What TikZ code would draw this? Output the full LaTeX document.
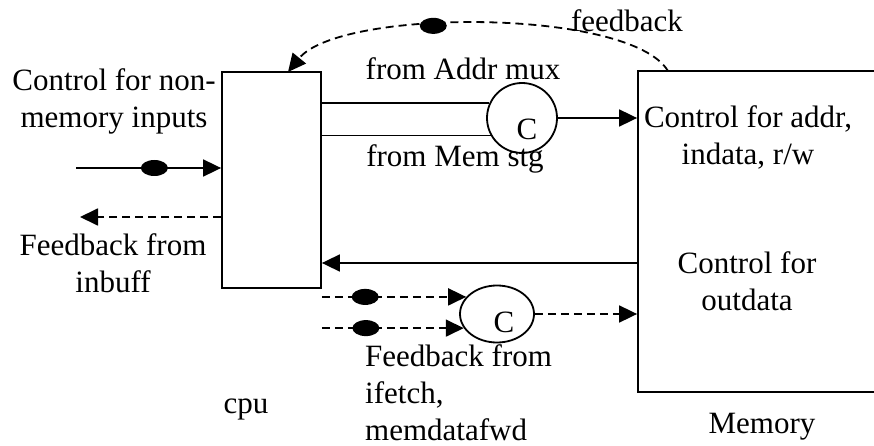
\documentclass[tikz,border=0pt]{standalone}
\usepackage{fontspec}
\setmainfont{Liberation Serif}
\usetikzlibrary{arrows.meta,shapes.geometric}

\begin{document}
\begin{tikzpicture}[x=1pt,y=-1pt,
  bx/.style={draw,line width=1.8pt,rectangle,inner sep=0pt},
  mx/.style={draw,line width=1.8pt,ellipse,inner sep=0pt},
  dt/.style={ellipse,fill=black,minimum width=27pt,minimum height=16pt,inner sep=0pt},
  tx/.style={font=\fontsize{31}{37}\selectfont,inner sep=0pt,anchor=base},
  sl/.style={line width=1.8pt},
  se/.style={sl,-{Triangle[length=18pt,width=17pt]}},
  de/.style={se,dash pattern=on 8pt off 5pt}]
  \useasboundingbox (0,0) rectangle (874,446);
  \clip (0,0) rectangle (874,446);
  % blocks
  \node[bx,minimum width=99pt,minimum height=216pt] (cpu) at (271.5,180) {};
  \node[bx,minimum width=260pt,minimum height=321pt] (mem) at (768,231.5) {};
  % combine circles
  \node[mx,minimum width=70pt,minimum height=70pt] (c1) at (522,118) {};
  \node[mx,minimum width=74pt,minimum height=57pt] (c2) at (497,314) {};
  \node[tx] (c1l) at (527,140) {C};
  \node[tx] (c2l) at (504,332) {C};
  % free ends
  \coordinate (in) at (76,168);
  \coordinate (out) at (80,217);
  \coordinate (fbs) at (668,71);
  \coordinate (fbd) at (288,72);
  % cpu to memory through the first C
  \draw[sl] (cpu.east |- c1.155) -- (c1.155);
  \draw[sl] (cpu.east |- c1.209) -- (c1.209);
  \draw[se] (c1.east) -- (c1.east -| mem.west);
  % memory back to cpu
  \draw[se] (mem.west |- 0,263) -- (cpu.east |- 0,263);
  \draw[de] (fbs) .. controls (630,8) and (340,8) .. (fbd) node[dt,pos=0.6]{};
  % feedback into the second C
  \draw[de] (cpu.east |- c2.151) -- (c2.151) node[dt,pos=0.3]{};
  \draw[de] (cpu.east |- c2.203) -- (c2.203) node[dt,pos=0.31]{};
  \draw[de] (c2.east) -- (c2.east -| mem.west);
  % outside inputs
  \draw[se] (in) -- (in -| cpu.west) node[dt,pos=0.54]{};
  \draw[de] (cpu.west |- out) -- (out);
  % labels (multi-line ones sit on their last line)
  \node[tx,align=center] (ctl) at (114,128) {Control for non-\\memory inputs};
  \node[tx,align=center] (fin) at (113,292) {Feedback from\\inbuff};
  \node[tx] (fam) at (463,80) {from Addr mux};
  \node[tx] (fms) at (455,167) {from Mem stg};
  \node[tx] (fbl) at (627,32) {feedback};
  \node[tx,align=center] (cad) at (748,165) {Control for addr,\\indata, r/w};
  \node[tx,align=center] (cod) at (747,310) {Control for\\outdata};
  \node[tx,align=left,anchor=base west] (fif) at (365,440) {Feedback from\\ifetch,\\memdatafwd};
  \node[tx] (cpul) at (246,413) {cpu};
  \node[tx] (meml) at (762,433) {Memory};
\end{tikzpicture}
\end{document}
